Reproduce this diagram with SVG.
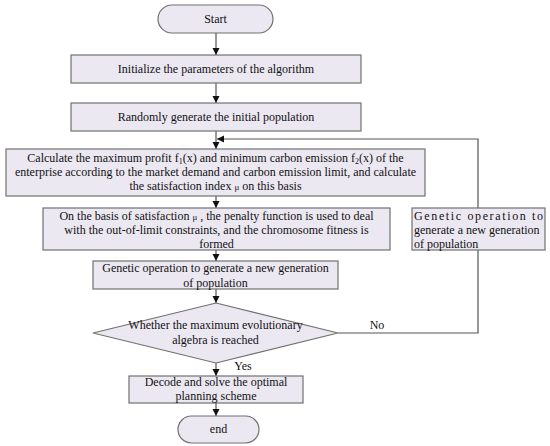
<svg xmlns="http://www.w3.org/2000/svg" width="550" height="446" viewBox="0 0 550 446">
<style>
.n{fill:#ece8f1;stroke:#707070;stroke-width:1.2}
.t{font-family:"Liberation Serif",serif;font-size:12px;fill:#111;text-anchor:middle}
.l{text-anchor:start}
.c{fill:none;stroke:#555;stroke-width:1.2}
</style>
<defs>
<marker id="ah" markerUnits="userSpaceOnUse" markerWidth="8" markerHeight="8" refX="7" refY="4" orient="auto">
<path d="M0,0.5 L7,4 L0,7.5 Z" fill="#111"/>
</marker>
</defs>
<rect width="550" height="446" fill="#fff"/>
<g id="connectors">
<line class="c" x1="216" y1="33" x2="216" y2="55" marker-end="url(#ah)"/>
<line class="c" x1="216" y1="83" x2="216" y2="103" marker-end="url(#ah)"/>
<line class="c" x1="216" y1="131" x2="216" y2="149" marker-end="url(#ah)"/>
<path class="c" d="M338,333 H478 V139 H217" marker-end="url(#ah)"/>
<line class="c" x1="216" y1="196" x2="216" y2="208" marker-end="url(#ah)"/>
<line class="c" x1="216" y1="250" x2="216" y2="261" marker-end="url(#ah)"/>
<line class="c" x1="216" y1="289" x2="216" y2="303" marker-end="url(#ah)"/>
<line class="c" x1="216" y1="363" x2="216" y2="376" marker-end="url(#ah)"/>
<line class="c" x1="216" y1="403" x2="216" y2="416" marker-end="url(#ah)"/>
<text class="t" x="377" y="329">No</text>
<text class="t" x="243" y="370">Yes</text>
</g>
<g id="start">
<rect class="n" x="158" y="5" width="115" height="28" rx="14"/>
<text class="t" x="215.5" y="23">Start</text>
</g>
<g id="init">
<rect class="n" x="71" y="55" width="290" height="28"/>
<text class="t" x="216" y="73">Initialize the parameters of the algorithm</text>
</g>
<g id="random">
<rect class="n" x="71" y="103" width="290" height="28"/>
<text class="t" x="216" y="121">Randomly generate the initial population</text>
</g>
<g id="calc">
<rect class="n" x="6" y="149" width="419" height="47"/>
<text class="t" x="215.5" y="162">Calculate the maximum profit f<tspan font-size="8" dy="2">1</tspan><tspan dy="-2">(x) and minimum carbon emission f</tspan><tspan font-size="8" dy="2">2</tspan><tspan dy="-2">(x) of the</tspan></text>
<text class="t" x="215.5" y="176">enterprise according to the market demand and carbon emission limit, and calculate</text>
<text class="t" x="215.5" y="190">the satisfaction index <tspan font-size="9">μ</tspan> on this basis</text>
</g>
<g id="penalty">
<rect class="n" x="43" y="208" width="347" height="42"/>
<text class="t" x="216.5" y="220">On the basis of satisfaction  <tspan font-size="9">μ</tspan> , the penalty function is used to deal</text>
<text class="t" x="216.5" y="234">with the out-of-limit constraints, and the chromosome fitness is</text>
<text class="t" x="216.5" y="248">formed</text>
</g>
<g id="genetic-right">
<rect class="n" x="412" y="208" width="133" height="42"/>
<text class="t l" x="414" y="220" textLength="129" lengthAdjust="spacing">Genetic operation to</text>
<text class="t l" x="414" y="234">generate a new generation</text>
<text class="t l" x="414" y="248">of population</text>
</g>
<g id="genetic">
<rect class="n" x="93" y="261" width="245" height="28"/>
<text class="t" x="215.5" y="272">Genetic operation to generate a new generation</text>
<text class="t" x="215.5" y="287">of population</text>
</g>
<g id="decision">
<polygon class="n" points="216,303 338,333 216,363 93,333"/>
<text class="t" x="215.5" y="329">Whether the maximum evolutionary</text>
<text class="t" x="215.5" y="344">algebra is reached</text>
</g>
<g id="decode">
<rect class="n" x="129" y="376" width="174" height="27"/>
<text class="t" x="216" y="386">Decode and solve the optimal</text>
<text class="t" x="216" y="400">planning scheme</text>
</g>
<g id="end">
<rect class="n" x="178" y="416" width="81" height="27" rx="13.5"/>
<text class="t" x="218.5" y="433">end</text>
</g>
</svg>
